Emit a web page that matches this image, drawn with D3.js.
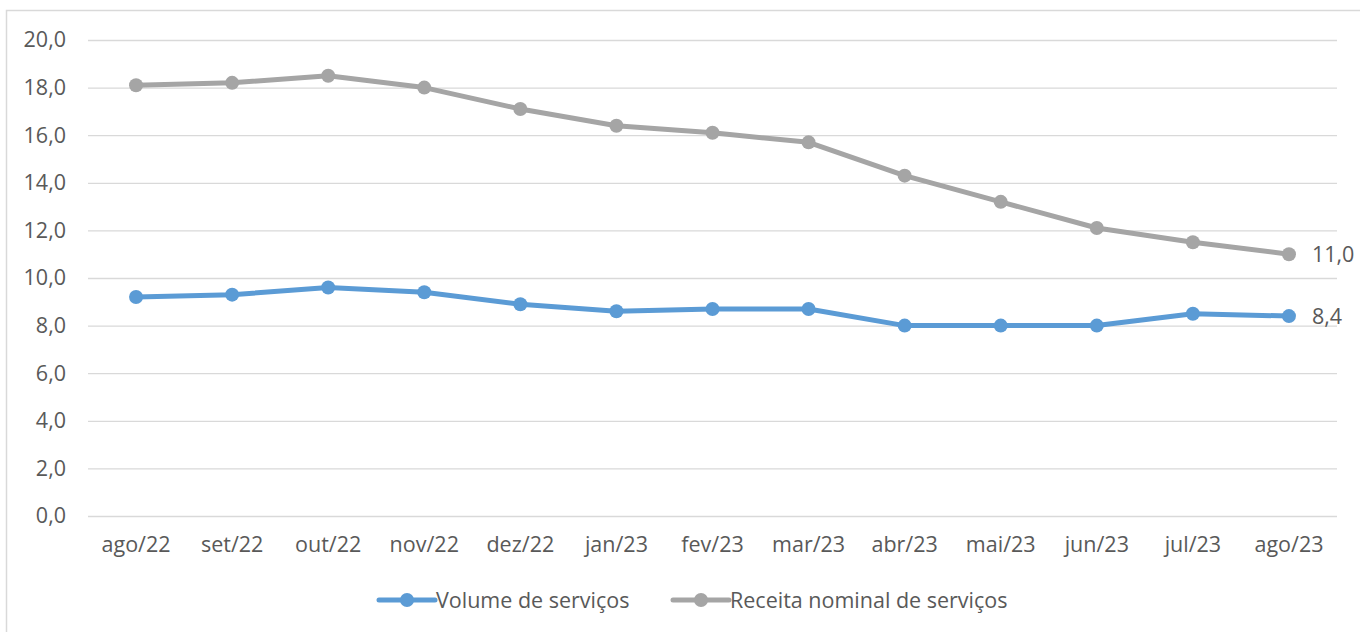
<!DOCTYPE html>
<html>
<head>
<meta charset="utf-8">
<script src="https://cdn.jsdelivr.net/npm/d3@7"></script>
<style>
  body { margin: 0; background: #fff; }
  svg text { font-family: "Open Sans", sans-serif; fill: #595959; }
</style>
</head>
<body>
<div id="chart"></div>
<script>
let months = ['ago/22', 'set/22', 'out/22', 'nov/22', 'dez/22', 'jan/23', 'fev/23',
    'mar/23', 'abr/23', 'mai/23', 'jun/23', 'jul/23', 'ago/23']
let volume = [9.2, 9.3, 9.6, 9.4, 8.9, 8.6, 8.7, 8.7, 8.0, 8.0, 8.0, 8.5, 8.4]
let receita = [18.1, 18.2, 18.5, 18.0, 17.1, 16.4, 16.1, 15.7, 14.3, 13.2, 12.1, 11.5, 11.0]
let yTicks = [0, 2, 4, 6, 8, 10, 12, 14, 16, 18, 20]

let series = [
    { name: 'Volume de serviços', values: volume, color: '#5B9BD5' },
    { name: 'Receita nominal de serviços', values: receita, color: '#A5A5A5' }
]

let width = 1360
let height = 632
let margin = { top: 40, right: 23, bottom: 116, left: 88 }
let fontSize = 21.5
let fmt = (v) => d3.format('.1f')(v).replace('.', ',')

let svg = d3.select('#chart').append('svg')
    .attr('width', width)
    .attr('height', height)

svg.append('rect')
    .attr('x', 6.5).attr('y', 10.5)
    .attr('width', width).attr('height', height)
    .attr('fill', 'none')
    .attr('stroke', '#d9d9d9')
    .attr('stroke-width', 1.5)

let x = d3.scaleBand()
    .domain(months)
    .range([margin.left, width - margin.right])

let y = d3.scaleLinear()
    .domain([0, 20])
    .range([height - margin.bottom, margin.top])

// gridlines
svg.append('g')
    .attr('transform', `translate(${margin.left},0)`)
    .call(d3.axisLeft(y).tickValues(yTicks).tickSize(-(width - margin.left - margin.right)).tickFormat(''))
    .call(g => g.select('.domain').remove())
    .call(g => g.selectAll('line').attr('stroke', '#d9d9d9').attr('stroke-width', 1.3))

// y labels
svg.append('g')
    .attr('transform', `translate(${margin.left - 22},0)`)
    .call(d3.axisLeft(y).tickValues(yTicks).tickSize(0).tickFormat(fmt))
    .call(g => g.select('.domain').remove())
    .call(g => g.selectAll('text').attr('font-size', fontSize).attr('text-anchor', 'end').attr('x', 0))

// x labels
svg.append('g')
    .attr('transform', `translate(0,${height - margin.bottom})`)
    .call(d3.axisBottom(x).tickSize(0).tickPadding(21))
    .call(g => g.select('.domain').remove())
    .call(g => g.selectAll('text').attr('font-size', fontSize))

let cx = (d, i) => x(months[i]) + x.bandwidth() / 2

let line = d3.line()
    .x(cx)
    .y(d => y(d))

series.forEach(s => {
    svg.append('path')
        .datum(s.values)
        .attr('d', line)
        .attr('fill', 'none')
        .attr('stroke', s.color)
        .attr('stroke-width', 5)
        .attr('stroke-linejoin', 'round')

    svg.append('g').selectAll('circle')
        .data(s.values)
        .join('circle')
        .attr('cx', cx)
        .attr('cy', d => y(d))
        .attr('r', 7)
        .attr('fill', s.color)

    let last = s.values.length - 1
    svg.append('text')
        .attr('x', cx(s.values[last], last) + 23)
        .attr('y', y(s.values[last]))
        .attr('dy', '0.35em')
        .attr('font-size', fontSize)
        .text(fmt(s.values[last]))
})

// legend
let legendY = 600
let legendX = [379, 673]
series.forEach((s, i) => {
    let g = svg.append('g').attr('transform', `translate(${legendX[i]},${legendY})`)
    g.append('line')
        .attr('x1', 0).attr('x2', 56)
        .attr('stroke', s.color)
        .attr('stroke-width', 5)
        .attr('stroke-linecap', 'round')
    g.append('circle')
        .attr('cx', 28).attr('r', 7)
        .attr('fill', s.color)
    g.append('text')
        .attr('x', 57)
        .attr('dy', '0.35em')
        .attr('font-size', fontSize)
        .text(s.name)
})
</script>
</body>
</html>
